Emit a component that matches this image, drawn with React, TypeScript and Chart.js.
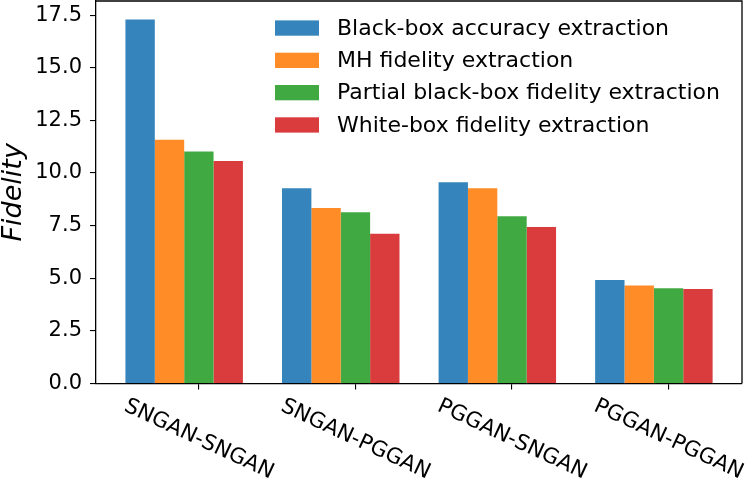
import { useEffect, useRef } from 'react';
import { Chart, registerables } from 'chart.js';

Chart.register(...registerables);

// data
const categories = ['SNGAN-SNGAN', 'SNGAN-PGGAN', 'PGGAN-SNGAN', 'PGGAN-PGGAN'];
const seriesNames = [
  'Black-box accuracy extraction',
  'MH fidelity extraction',
  'Partial black-box fidelity extraction',
  'White-box fidelity extraction',
];
const blackBoxAccuracy = [17.29, 9.27, 9.56, 4.92];
const mhFidelity = [11.58, 8.34, 9.27, 4.65];
const partialBlackBox = [11.02, 8.14, 7.95, 4.52];
const whiteBox = [10.57, 7.11, 7.44, 4.49];
const yTicks = [0, 2.5, 5, 7.5, 10, 12.5, 15, 17.5];

const colors = [
  'rgba(31, 119, 180, 0.9)',
  'rgba(255, 127, 14, 0.9)',
  'rgba(44, 160, 44, 0.9)',
  'rgba(214, 39, 40, 0.9)',
];

const FONT = "'DejaVu Sans', sans-serif";
const BAR_W = 0.1876; // bar width in category units
const SHIFT = -BAR_W / 2; // bars sit slightly left of the tick, as in the source

const frame = {
  id: 'frame',
  afterDraw(chart: Chart) {
    const { ctx, chartArea } = chart;
    const { left, right, top, bottom } = chartArea;
    ctx.save();
    ctx.strokeStyle = '#000';
    ctx.lineWidth = 1.3;
    ctx.beginPath();
    ctx.moveTo(left, top);
    ctx.lineTo(right, top);
    ctx.lineTo(right, bottom);
    ctx.stroke();

    // rotated category labels (clockwise, centred under the tick)
    const xs = chart.scales.x;
    ctx.fillStyle = '#000';
    ctx.font = `21.5px ${FONT}`;
    ctx.textAlign = 'center';
    ctx.textBaseline = 'middle';
    categories.forEach((c, i) => {
      ctx.save();
      ctx.translate(xs.getPixelForValue(i), bottom + 56);
      ctx.rotate((25 * Math.PI) / 180);
      ctx.fillText(c, 0, 0);
      ctx.restore();
    });

    // legend
    ctx.textAlign = 'left';
    ctx.font = `22px ${FONT}`;
    chart.data.datasets.forEach((ds, i) => {
      const cy = 28 + i * 32.3;
      ctx.fillStyle = ds.backgroundColor as string;
      ctx.fillRect(275, cy - 7.6, 44, 15.3);
      ctx.fillStyle = '#000';
      ctx.fillText(ds.label as string, 337, cy + 1);
    });
    ctx.restore();
  },
};

export default function App() {
  const canvasRef = useRef<HTMLCanvasElement>(null);

  useEffect(() => {
    document.body.style.margin = '0';
    if (!canvasRef.current) return;
    const series = [blackBoxAccuracy, mhFidelity, partialBlackBox, whiteBox];

    const chart = new Chart(canvasRef.current, {
      type: 'bar',
      data: {
        datasets: series.map((vals, s) => ({
          label: seriesNames[s],
          data: vals.map((v, i) => ({ x: i + SHIFT, y: v })),
          backgroundColor: colors[s],
          borderWidth: 0,
          categoryPercentage: BAR_W * 4,
          barPercentage: 1,
        })),
      },
      options: {
        animation: false,
        responsive: true,
        maintainAspectRatio: false,
        layout: { padding: { top: 1, right: 6, left: 0, bottom: 0 } },
        plugins: {
          legend: { display: false },
          tooltip: { enabled: false },
        },
        scales: {
          x: {
            type: 'linear',
            min: -0.657,
            max: 3.469,
            offset: false,
            afterBuildTicks: (scale: any) => {
              scale.ticks = categories.map((_, i) => ({ value: i }));
            },
            afterFit: (scale: any) => {
              scale.height = 102.5;
              scale.paddingLeft = 0;
              scale.paddingRight = 0;
            },
            ticks: { display: false },
            grid: {
              display: true,
              drawOnChartArea: false,
              drawTicks: true,
              tickLength: 6,
              tickColor: '#000',
              lineWidth: 1.1,
              offset: false,
            },
            border: { display: true, color: '#000', width: 1.3 },
          },
          y: {
            min: 0,
            max: 18.17,
            afterBuildTicks: (scale: any) => {
              scale.ticks = yTicks.map((v) => ({ value: v }));
            },
            afterFit: (scale: any) => {
              scale.width = 96;
              scale.paddingTop = 0;
              scale.paddingBottom = 0;
            },
            ticks: {
              color: '#000',
              padding: 8,
              font: { family: FONT, size: 21 },
              callback: (v: any) => Number(v).toFixed(1),
            },
            grid: {
              drawOnChartArea: false,
              drawTicks: true,
              tickLength: 6,
              tickColor: '#000',
              lineWidth: 1.1,
            },
            border: { display: true, color: '#000', width: 1.3 },
            title: {
              display: true,
              text: 'Fidelity',
              color: '#000',
              padding: { top: 0, bottom: 0 },
              font: { family: FONT, size: 27, style: 'italic', lineHeight: 1 },
            },
          },
        },
      },
      plugins: [frame],
    });

    return () => chart.destroy();
  }, []);

  return (
    <div style={{ width: 748, height: 486, position: 'relative' }}>
      <canvas ref={canvasRef} />
    </div>
  );
}
